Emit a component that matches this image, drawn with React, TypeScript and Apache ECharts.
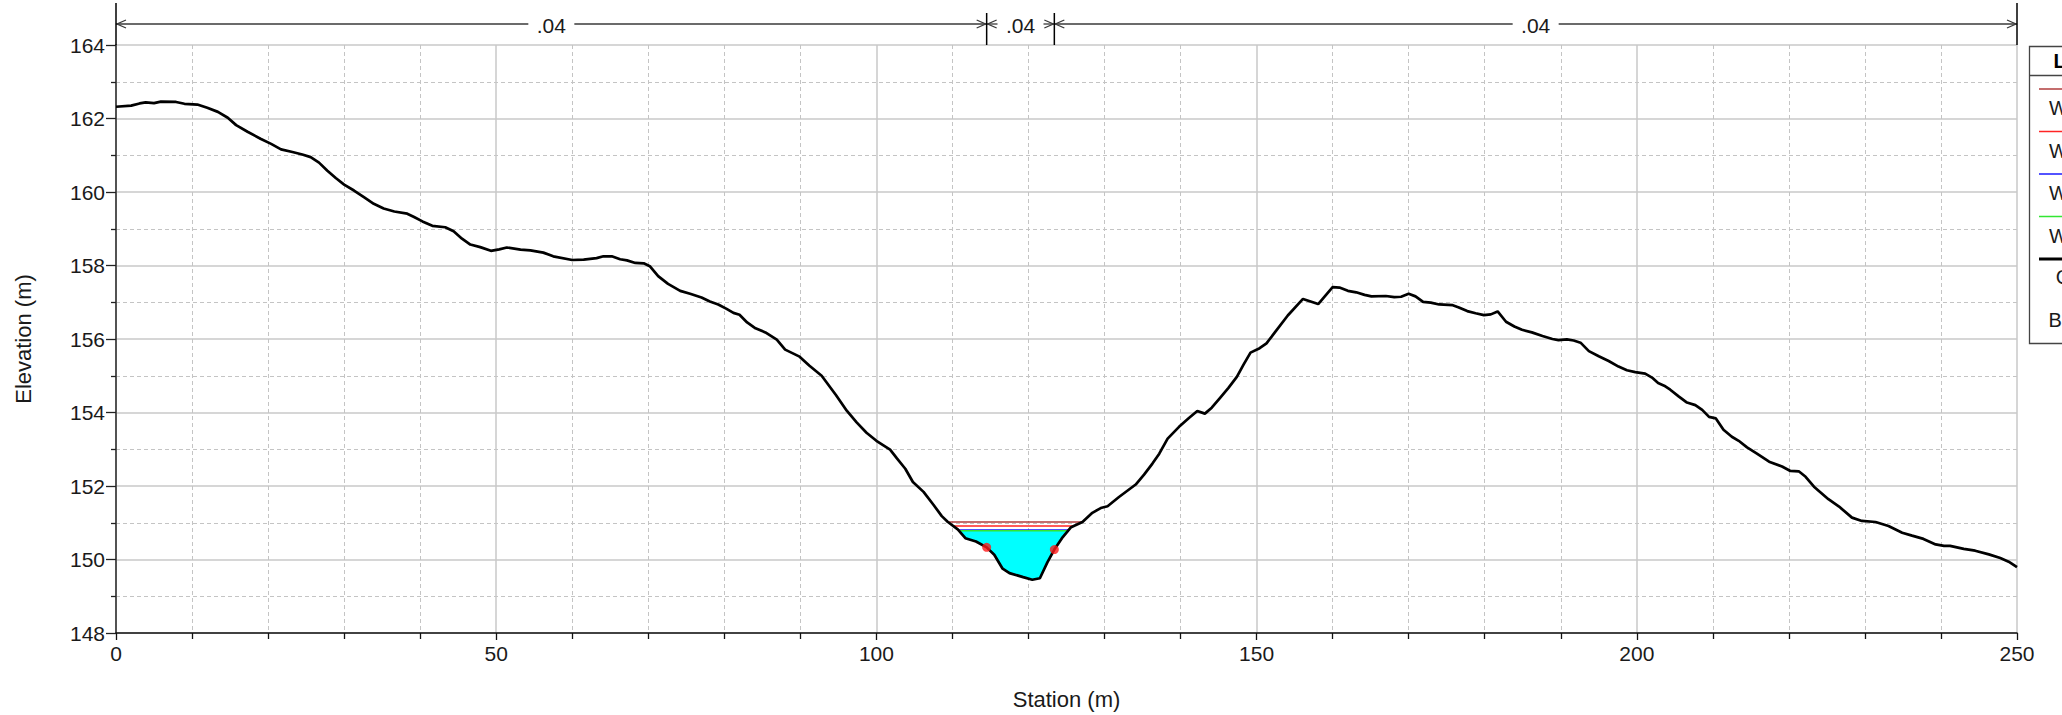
import React, { useEffect, useRef } from "react";
import * as echarts from "echarts";

// ---------- data ----------
const groundStation = [
  0, 2.0, 3.1, 3.9, 5.0, 5.9, 7.9, 9.0, 10.7, 12.0, 13.4, 14.7, 15.8, 17.3, 19.0, 20.4, 21.7, 23.2, 24.5, 25.6,
  26.7, 27.8, 28.9, 30.0, 31.3, 32.6, 33.9, 35.2, 36.6, 38.3, 39.2, 40.3, 41.6, 43.3, 44.4, 45.5, 46.6, 47.9, 49.3,
  50.4, 51.4, 53.2, 54.5, 56.2, 57.5, 60.0, 61.5, 63.2, 64.1, 65.2, 66.3, 67.2, 68.3, 69.4, 70.2, 71.3, 72.6, 74.2,
  75.5, 77.0, 78.1, 79.2, 80.3, 81.2, 82.0, 83.0, 84.1, 85.4, 86.9, 88.0, 89.9, 91.2, 92.8, 94.7, 96.1, 97.4, 98.7,
  100.0, 101.8, 102.7, 103.8, 104.8, 106.2, 107.5, 108.6, 109.4, 110.7, 111.7, 113.1, 114.5, 115.5, 116.6, 117.5,
  119.3, 120.5, 121.5, 122.5, 123.4, 124.4, 125.6, 127.1, 128.4, 129.5, 130.4, 131.9, 134.1, 135.2, 136.3, 137.2,
  138.3, 139.8, 141.1, 142.2, 143.2, 144.1, 145.2, 146.3, 147.4, 148.3, 149.2, 150.4, 151.3, 152.4, 154.1, 156.1,
  158.1, 160.0, 160.9, 162.0, 163.1, 164.2, 165.1, 167.0, 168.1, 169.0, 170.0, 170.9, 171.9, 172.9, 174.0, 175.8,
  176.6, 177.7, 178.8, 179.9, 180.8, 181.7, 182.8, 183.9, 184.9, 186.2, 187.6, 188.9, 189.7, 190.8, 191.7, 192.6,
  193.7, 195.0, 196.3, 197.6, 198.7, 199.8, 201.1, 202.0, 202.8, 203.6, 204.4, 205.5, 206.6, 207.7, 208.6, 209.5,
  210.4, 211.4, 212.5, 213.4, 214.5, 215.8, 217.4, 219.1, 220.2, 221.3, 222.2, 223.3, 225.2, 226.6, 228.3, 229.6,
  231.4, 233.1, 234.9, 236.2, 237.7, 239.3, 240.4, 241.2, 243.0, 244.5, 246.3, 247.8, 248.9, 250.0,
];
const groundElevation = [
  162.32, 162.35, 162.41, 162.44, 162.42, 162.46, 162.45, 162.4, 162.38, 162.29, 162.18, 162.02, 161.82, 161.64,
  161.45, 161.31, 161.16, 161.09, 161.02, 160.95, 160.8, 160.58, 160.38, 160.2, 160.04, 159.86, 159.68, 159.55,
  159.47, 159.41, 159.32, 159.2, 159.08, 159.04, 158.93, 158.73, 158.57, 158.5, 158.4, 158.44, 158.49, 158.43,
  158.41, 158.35, 158.25, 158.15, 158.16, 158.2, 158.25, 158.25, 158.17, 158.14, 158.07, 158.06, 157.98, 157.71,
  157.5, 157.31, 157.23, 157.13, 157.02, 156.94, 156.82, 156.71, 156.66, 156.45, 156.29, 156.18, 155.98, 155.71,
  155.52, 155.27, 155.0, 154.47, 154.05, 153.73, 153.45, 153.23, 152.99, 152.75, 152.47, 152.11, 151.84, 151.49,
  151.18, 151.02, 150.82, 150.58, 150.49, 150.33, 150.13, 149.75, 149.63, 149.52, 149.45, 149.49, 149.93, 150.27,
  150.58, 150.88, 151.02, 151.27, 151.4, 151.45, 151.7, 152.04, 152.31, 152.61, 152.88, 153.29, 153.61, 153.85,
  154.04, 153.97, 154.13, 154.4, 154.67, 154.97, 155.31, 155.63, 155.75, 155.88, 156.18, 156.64, 157.09, 156.95,
  157.41, 157.4, 157.31, 157.27, 157.2, 157.16, 157.17, 157.14, 157.15, 157.23, 157.16, 157.01, 156.99, 156.94,
  156.92, 156.86, 156.76, 156.7, 156.65, 156.67, 156.75, 156.47, 156.34, 156.25, 156.18, 156.08, 156.0, 155.97,
  155.99, 155.96, 155.9, 155.67, 155.53, 155.4, 155.25, 155.15, 155.1, 155.06, 154.95, 154.8, 154.73, 154.62,
  154.44, 154.27, 154.2, 154.07, 153.88, 153.84, 153.53, 153.34, 153.23, 153.05, 152.88, 152.66, 152.53, 152.41,
  152.4, 152.25, 151.98, 151.64, 151.44, 151.14, 151.05, 151.02, 150.91, 150.73, 150.65, 150.56, 150.41, 150.37,
  150.37, 150.29, 150.24, 150.14, 150.04, 149.94, 149.79,
];

const wsNames = ["WS PF 4", "WS PF 3", "WS PF 2", "WS PF 1"];
const wsElevation = [151.02, 150.91, 150.8, 150.78];
const wsColors = ["#b03c3c", "#ff2424", "#1a1aff", "#33e633"];

const bankStations = [114.5, 123.4];
const bankElevations = [150.33, 150.27];

const roughnessBreaks = [0, 114.5, 123.4, 250];
const roughnessLabels = [".04", ".04", ".04"];

const xMin = 0, xMax = 250, xInterval = 50;
const yMin = 148, yMax = 164, yInterval = 2;

const FONT = '"Liberation Sans", Arial, Helvetica, sans-serif';

// ---------- helpers derived from data ----------
function wetExtent(level: number) {
  const s = groundStation, e = groundElevation, n = e.length;
  let iMin = 0;
  for (let i = 1; i < n; i++) if (e[i] < e[iMin]) iMin = i;
  let l = iMin;
  while (l > 0 && e[l - 1] < level) l--;
  let r = iMin;
  while (r < n - 1 && e[r + 1] < level) r++;
  const interp = (a: number, b: number) => {
    const t = (level - e[a]) / (e[b] - e[a]);
    return s[a] + t * (s[b] - s[a]);
  };
  const xl = l > 0 ? interp(l - 1, l) : s[0];
  const xr = r < n - 1 ? interp(r, r + 1) : s[n - 1];
  return { xl, xr, l, r };
}

function waterPolygon(level: number) {
  const { xl, xr, l, r } = wetExtent(level);
  const pts: number[][] = [[xl, level]];
  for (let i = l; i <= r; i++) pts.push([groundStation[i], groundElevation[i]]);
  pts.push([xr, level]);
  return pts;
}

export default function App() {
  const ref = useRef<HTMLDivElement>(null);

  useEffect(() => {
    if (!ref.current) return;
    const chart = echarts.init(ref.current, undefined, { renderer: "svg" });

    const lowest = wsElevation[wsElevation.length - 1];
    const poly = waterPolygon(lowest);

    const wsSeries = wsNames.map((name, i) => {
      const ext = wetExtent(wsElevation[i]);
      return {
        name,
        type: "line",
        data: [
          [ext.xl, wsElevation[i]],
          [ext.xr, wsElevation[i]],
        ],
        showSymbol: false,
        lineStyle: { color: wsColors[i], width: 1.5 },
        z: 3,
      };
    });

    const segments = roughnessLabels.map((lab, i) => [roughnessBreaks[i], yMax, roughnessBreaks[i + 1]]);

    const option: any = {
      animation: false,
      backgroundColor: "#ffffff",
      grid: { left: 116, right: 45, top: 45, bottom: 80 },
      xAxis: {
        type: "value",
        min: xMin,
        max: xMax,
        interval: xInterval,
        name: "Station (m)",
        nameLocation: "middle",
        nameGap: 55,
        nameTextStyle: { fontFamily: FONT, fontSize: 22, color: "#1a1a1a" },
        axisLine: { show: true, onZero: false, lineStyle: { color: "#111", width: 1.5 } },
        axisTick: { show: true, length: 7, lineStyle: { color: "#111", width: 1.3 } },
        minorTick: { show: true, splitNumber: 5, length: 6, lineStyle: { color: "#111", width: 1.3 } },
        axisLabel: { fontFamily: FONT, fontSize: 21, color: "#1a1a1a", margin: 10 },
        splitLine: { show: true, lineStyle: { color: "#c8c8c8", width: 1.5 } },
        minorSplitLine: { show: true, lineStyle: { color: "#c4c4c4", width: 1, type: [4, 3] } },
      },
      yAxis: {
        type: "value",
        min: yMin,
        max: yMax,
        interval: yInterval,
        name: "Elevation (m)",
        nameLocation: "middle",
        nameGap: 82,
        nameTextStyle: { fontFamily: FONT, fontSize: 22, color: "#1a1a1a" },
        axisLine: { show: true, onZero: false, lineStyle: { color: "#444", width: 1.8 } },
        axisTick: { show: true, length: 10, lineStyle: { color: "#222", width: 1.3 } },
        minorTick: { show: true, splitNumber: 2, length: 5, lineStyle: { color: "#222", width: 1.3 } },
        axisLabel: { fontFamily: FONT, fontSize: 21, color: "#1a1a1a", margin: 11 },
        splitLine: { show: true, lineStyle: { color: "#c8c8c8", width: 1.5 } },
        minorSplitLine: { show: true, lineStyle: { color: "#c4c4c4", width: 1, type: [4, 3] } },
      },
      series: [
        {
          name: "water",
          type: "custom",
          data: [[poly[0][0], lowest]],
          renderItem: (params: any, api: any) => ({
            type: "polygon",
            shape: { points: poly.map((p) => api.coord(p)) },
            style: { fill: "#00ffff", stroke: "none" },
          }),
          z: 2,
          silent: true,
        },
        ...wsSeries,
        {
          name: "Ground",
          type: "line",
          data: groundStation.map((s, i) => [s, groundElevation[i]]),
          showSymbol: false,
          lineStyle: { color: "#000", width: 2.7 },
          z: 4,
        },
        {
          name: "Bank Sta",
          type: "scatter",
          data: bankStations.map((s, i) => [s, bankElevations[i]]),
          symbol: "circle",
          symbolSize: 9,
          itemStyle: { color: "#ff1a1a" },
          z: 5,
        },
        {
          name: "roughness",
          type: "custom",
          clip: false,
          encode: { x: [0, 2], y: 1 },
          data: segments,
          renderItem: (params: any, api: any) => {
            const i = params.dataIndex;
            const pa = api.coord([api.value(0), api.value(1)]);
            const pb = api.coord([api.value(2), api.value(1)]);
            const yTop = pa[1];
            const yl = yTop - 21;
            const xa = pa[0], xb = pb[0];
            const cx = (xa + xb) / 2;
            const halfGap = 23;
            const stroke = "#3a3a3a";
            const children: any[] = [
              { type: "line", shape: { x1: xa, y1: yl, x2: cx - halfGap, y2: yl }, style: { stroke, lineWidth: 1.3 } },
              { type: "line", shape: { x1: cx + halfGap, y1: yl, x2: xb, y2: yl }, style: { stroke, lineWidth: 1.3 } },
              {
                type: "polyline",
                shape: { points: [[xa + 10, yl - 4], [xa + 1, yl], [xa + 10, yl + 4]] },
                style: { stroke, fill: "none", lineWidth: 1.3 },
              },
              {
                type: "polyline",
                shape: { points: [[xb - 10, yl - 4], [xb - 1, yl], [xb - 10, yl + 4]] },
                style: { stroke, fill: "none", lineWidth: 1.3 },
              },
              {
                type: "text",
                x: cx,
                y: yl + 1,
                style: {
                  text: roughnessLabels[i],
                  fill: "#1a1a1a",
                  fontSize: 21,
                  fontFamily: FONT,
                  align: "center",
                  verticalAlign: "middle",
                },
              },
              {
                type: "line",
                shape: { x1: xa, y1: i === 0 ? yTop - 42 : yTop - 32, x2: xa, y2: yTop },
                style: { stroke: "#000", lineWidth: 1.5 },
              },
            ];
            if (i === segments.length - 1) {
              children.push({
                type: "line",
                shape: { x1: xb, y1: yTop - 42, x2: xb, y2: yTop },
                style: { stroke: "#000", lineWidth: 1.5 },
              });
            }
            return { type: "group", children };
          },
          z: 6,
          silent: true,
        },
      ],
      graphic: [
        {
          type: "group",
          children: [
            {
              type: "rect",
              shape: { x: 2029.5, y: 46.5, width: 220, height: 297 },
              style: { fill: "#ffffff", stroke: "#444", lineWidth: 1.3 },
            },
            {
              type: "line",
              shape: { x1: 2029.5, y1: 75.5, x2: 2249.5, y2: 75.5 },
              style: { stroke: "#444", lineWidth: 1.3 },
            },
            {
              type: "text",
              x: 2089,
              y: 61,
              style: {
                text: "Legend",
                fill: "#000",
                fontSize: 20,
                fontWeight: "bold",
                fontFamily: FONT,
                align: "center",
                verticalAlign: "middle",
              },
            },
            ...wsNames.flatMap((name, i) => [
              {
                type: "line",
                shape: { x1: 2039, y1: 89 + i * 42.5, x2: 2139, y2: 89 + i * 42.5 },
                style: { stroke: wsColors[i], lineWidth: 1.5 },
              },
              {
                type: "text",
                x: 2089,
                y: 108 + i * 42.5,
                style: {
                  text: name,
                  fill: "#1a1a1a",
                  fontSize: 20,
                  fontFamily: FONT,
                  align: "center",
                  verticalAlign: "middle",
                },
              },
            ]),
            {
              type: "line",
              shape: { x1: 2039, y1: 259, x2: 2139, y2: 259 },
              style: { stroke: "#000", lineWidth: 3 },
            },
            {
              type: "text",
              x: 2089,
              y: 277,
              style: {
                text: "Ground",
                fill: "#1a1a1a",
                fontSize: 20,
                fontFamily: FONT,
                align: "center",
                verticalAlign: "middle",
              },
            },
            {
              type: "circle",
              shape: { cx: 2089, cy: 300, r: 4 },
              style: { fill: "#ff1a1a" },
            },
            {
              type: "text",
              x: 2089,
              y: 320,
              style: {
                text: "Bank Sta",
                fill: "#1a1a1a",
                fontSize: 20,
                fontFamily: FONT,
                align: "center",
                verticalAlign: "middle",
              },
            },
          ],
        },
      ],
    };

    chart.setOption(option);
    return () => chart.dispose();
  }, []);

  return (
    <div
      ref={ref}
      style={{ position: "absolute", left: 0, top: 0, width: 2062, height: 715, background: "#fff" }}
    />
  );
}
